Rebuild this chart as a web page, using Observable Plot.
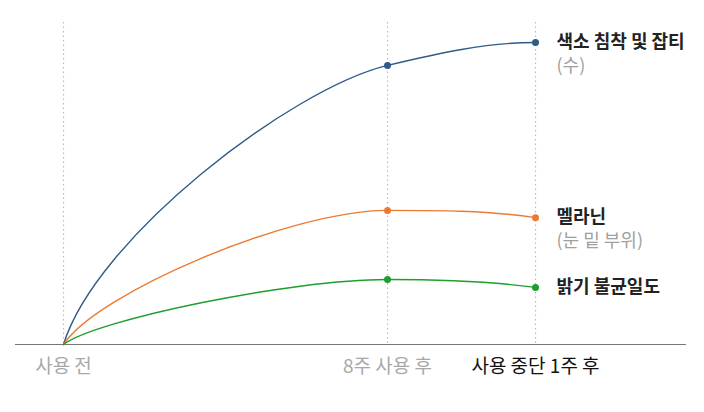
<!DOCTYPE html>
<html>
<head>
<meta charset="utf-8">
<script src="https://cdn.jsdelivr.net/npm/d3@7"></script>
<script src="https://cdn.jsdelivr.net/npm/@observablehq/plot@0.6"></script>
<style>
  html, body { margin: 0; padding: 0; background: #fff; }
  #chart svg { display: block; }
</style>
</head>
<body>
<div id="chart"></div>
<script>
// Stages (x position in relative units) and tick labels
const stages = [0, 2.19, 3.19];
const stageLabels = ["사용 전", "8주 사용 후", "사용 중단 1주 후"];
// Series values (relative index, 0 = before use)
const seriesNames = ["색소 침착 및 잡티", "멜라닌", "밝기 불균일도"];
const seriesSubs = ["(수)", "(눈 밑 부위)", ""];
const pigmentation = [0, 92.4, 100];
const melanin = [0, 44.4, 42];
const unevenness = [0, 21.5, 18.9];
const colors = ["#2f5b88", "#ec7a33", "#1e9e2c"];

// Smooth curve factory: PCHIP slopes, with an ease-out first segment
function EaseCurve(context) { this._context = context; }
EaseCurve.prototype = {
  areaStart() { this._line = 0; },
  areaEnd() { this._line = NaN; },
  lineStart() { this._xs = []; this._ys = []; },
  point(x, y) { this._xs.push(+x); this._ys.push(+y); },
  lineEnd() {
    const xs = this._xs, ys = this._ys, n = xs.length, c = this._context;
    if (n) {
      c.moveTo(xs[0], ys[0]);
      if (n === 2) c.lineTo(xs[1], ys[1]);
      else if (n > 2) {
        const h = [], s = [];
        for (let i = 0; i < n - 1; i++) { h.push(xs[i + 1] - xs[i]); s.push((ys[i + 1] - ys[i]) / h[i]); }
        const m = new Array(n).fill(0);
        for (let i = 1; i < n - 1; i++) {
          if (s[i - 1] * s[i] > 0) {
            const w1 = 2 * h[i] + h[i - 1], w2 = h[i] + 2 * h[i - 1];
            m[i] = (w1 + w2) / (w1 / s[i - 1] + w2 / s[i]);
          }
        }
        const end = (h0, h1, s0, s1) => {
          let d = ((2 * h0 + h1) * s0 - h0 * s1) / (h0 + h1);
          if (Math.sign(d) !== Math.sign(s0)) d = 0;
          else if (Math.sign(s0) !== Math.sign(s1) && Math.abs(d) > Math.abs(3 * s0)) d = 3 * s0;
          return d;
        };
        m[n - 1] = end(h[n - 2], h[n - 3], s[n - 2], s[n - 3]);
        for (let i = 0; i < n - 1; i++) {
          if (i === 0) {
            // ease-out rise from the starting point
            c.bezierCurveTo(xs[0] + 0.1 * h[0], ys[0] + 0.38 * (ys[1] - ys[0]),
                            xs[1] - 0.3 * h[0], ys[1] - 0.3 * h[0] * m[1], xs[1], ys[1]);
          } else {
            const dx = h[i] / 3;
            c.bezierCurveTo(xs[i] + dx, ys[i] + dx * m[i], xs[i + 1] - dx, ys[i + 1] - dx * m[i + 1], xs[i + 1], ys[i + 1]);
          }
        }
      }
    }
    if (this._line || (this._line !== 0 && n === 1)) c.closePath();
    this._line = 1 - this._line;
  }
};
const easeCurve = (context) => new EaseCurve(context);

const allSeries = [pigmentation, melanin, unevenness];
const data = allSeries.flatMap((vals, s) =>
  vals.map((v, i) => ({ series: seriesNames[s], x: stages[i], y: v, i })));
const points = data.filter(d => d.i > 0);
const ends = allSeries.map((vals, s) => ({
  series: seriesNames[s], sub: seriesSubs[s], x: stages[stages.length - 1], y: vals[vals.length - 1]
}));
const ticks = stages.map((x, i) => ({ x, label: stageLabels[i], last: i === stages.length - 1 }));

const font = "'Noto Sans CJK KR', 'Noto Sans', sans-serif";

const chart = Plot.plot({
  width: 704,
  height: 412,
  marginLeft: 15,
  marginRight: 18,
  marginTop: 22,
  marginBottom: 68,
  style: { fontFamily: font, background: "#fff" },
  x: { domain: [0, 3.19], range: [63, 535], axis: null },
  y: { domain: [0, 106.6], axis: null },
  color: { domain: seriesNames, range: colors },
  marks: [
    Plot.ruleX(stages, { stroke: "#bbb", strokeDasharray: "1.5,3", strokeWidth: 1.2 }),
    Plot.ruleY([0], { stroke: "#777", strokeWidth: 1 }),
    Plot.line(data, { x: "x", y: "y", z: "series", stroke: "series", curve: easeCurve, strokeWidth: 1.4 }),
    Plot.dot(points, { x: "x", y: "y", fill: "series", r: 3.5 }),
    Plot.text(ends, { x: "x", y: "y", text: "series", dx: 21, textAnchor: "start", fontSize: 18, fontWeight: 700, fill: "#222" }),
    Plot.text(ends, { x: "x", y: "y", text: "sub", dx: 21, dy: 24, textAnchor: "start", fontSize: 18, fill: "#a0a0a0" }),
    Plot.text(ticks, { x: "x", text: "label", frameAnchor: "bottom", dy: 28, fontSize: 19,
      fill: d => d.last ? "#111" : "#a8a8a8", fontWeight: d => d.last ? 500 : 400 })
  ]
});
document.getElementById("chart").appendChild(chart);
</script>
</body>
</html>
